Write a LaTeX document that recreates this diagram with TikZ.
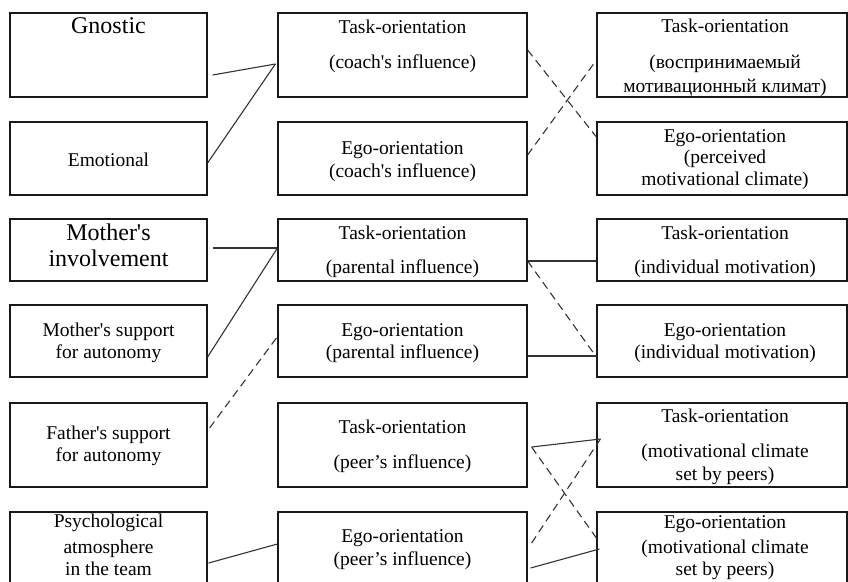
\documentclass[tikz,border=0pt]{standalone}
\usepackage{fontspec}
\newfontfamily\tnr{Liberation Serif}
\begin{document}
\begin{tikzpicture}[x=1pt,y=-1pt,
 box/.style={draw=black!90,line width=1.2pt,inner sep=0pt,minimum height=#1},
 lbox/.style={box=#1,minimum width=197},
 mbox/.style={box=#1,minimum width=249},
 rbox/.style={box=#1,minimum width=250},
 txt/.style={font=\tnr\fontsize{19.5}{22}\selectfont,inner sep=0pt,anchor=base,text=black},
 big/.style={txt,font=\tnr\fontsize{24}{27}\selectfont},
 conn/.style={draw=black!80,line width=1.1pt},
 dconn/.style={conn,dash pattern=on 8pt off 5pt}]
\useasboundingbox (0,0) rectangle (848,581);
\clip (0,0) rectangle (848,581);
% boxes
\node[lbox=84] (L1) at (108.5,55) {};
\node[lbox=73] (L2) at (108.5,158.5) {};
\node[lbox=62] (L3) at (108.5,250) {};
\node[lbox=72] (L4) at (108.5,341) {};
\node[lbox=84] (L5) at (108.5,445) {};
\node[lbox=90] (L6) at (108.5,557) {};
\node[mbox=84] (M1) at (402.5,55) {};
\node[mbox=73] (M2) at (402.5,158.5) {};
\node[mbox=62] (M3) at (402.5,250) {};
\node[mbox=72] (M4) at (402.5,341) {};
\node[mbox=84] (M5) at (402.5,445) {};
\node[mbox=90] (M6) at (402.5,557) {};
\node[rbox=84] (R1) at (722,55) {};
\node[rbox=73] (R2) at (722,158.5) {};
\node[rbox=62] (R3) at (722,250) {};
\node[rbox=72] (R4) at (722,341) {};
\node[rbox=84] (R5) at (722,445) {};
\node[rbox=90] (R6) at (722,557) {};
% left texts
\node[big] (tL1) at (108.5,33) {Gnostic};
\node[txt] (tL2) at (108.5,166) {Emotional};
\node[big] (tL3a) at (108.5,240.5) {Mother's};
\node[big] (tL3b) at (108.5,266.5) {involvement};
\node[txt] (tL4a) at (108.5,336.5) {Mother's support};
\node[txt] (tL4b) at (108.5,358.5) {for autonomy};
\node[txt] (tL5a) at (108.5,439.5) {Father's support};
\node[txt] (tL5b) at (108.5,461.5) {for autonomy};
\node[txt] (tL6a) at (108.5,527.5) {Psychological};
\node[txt] (tL6b) at (108.5,553) {atmosphere};
\node[txt] (tL6c) at (108.5,575) {in the team};
% middle texts
\node[txt] (tM1a) at (402.5,33) {Task-orientation};
\node[txt] (tM1b) at (402.5,68) {(coach's influence)};
\node[txt] (tM2a) at (402.5,154) {Ego-orientation};
\node[txt] (tM2b) at (402.5,177) {(coach's influence)};
\node[txt] (tM3a) at (402.5,239) {Task-orientation};
\node[txt] (tM3b) at (402.5,273.5) {(parental influence)};
\node[txt] (tM4a) at (402.5,336) {Ego-orientation};
\node[txt] (tM4b) at (402.5,358) {(parental influence)};
\node[txt] (tM5a) at (402.5,433) {Task-orientation};
\node[txt] (tM5b) at (402.5,468) {(peer’s influence)};
\node[txt] (tM6a) at (402.5,542.5) {Ego-orientation};
\node[txt] (tM6b) at (402.5,565) {(peer’s influence)};
% right texts
\node[txt] (tR1a) at (725,32) {Task-orientation};
\node[txt] (tR1b) at (725,68) {(воспринимаемый};
\node[txt] (tR1c) at (725,92) {мотивационный климат)};
\node[txt] (tR2a) at (725,142) {Ego-orientation};
\node[txt] (tR2b) at (725,163.5) {(perceived};
\node[txt] (tR2c) at (725,185.5) {motivational climate)};
\node[txt] (tR3a) at (725,239) {Task-orientation};
\node[txt] (tR3b) at (725,273.5) {(individual motivation)};
\node[txt] (tR4a) at (725,336) {Ego-orientation};
\node[txt] (tR4b) at (725,358) {(individual motivation)};
\node[txt] (tR5a) at (725,422) {Task-orientation};
\node[txt] (tR5b) at (725,457) {(motivational climate};
\node[txt] (tR5c) at (725,480) {set by peers)};
\node[txt] (tR6a) at (725,528) {Ego-orientation};
\node[txt] (tR6b) at (725,553) {(motivational climate};
\node[txt] (tR6c) at (725,575) {set by peers)};
% connectors
\draw[conn] ([xshift=5pt,yshift=-20pt]L1.east) -- ([xshift=-2pt,yshift=-9pt]M1.west);
\draw[conn] ([yshift=-4.5pt]L2.east) -- ([xshift=-2pt,yshift=-9pt]M1.west);
\draw[dconn] ([yshift=5pt]M1.east) -- ([yshift=21.5pt]R2.west);
\draw[dconn] ([yshift=3.5pt]M2.east) -- ([yshift=-5pt]R1.west);
\draw[conn] ([xshift=5pt,yshift=2pt]L3.east) -- ([yshift=2pt]M3.west);
\draw[conn] ([yshift=-16pt]L4.east) -- ([yshift=2pt]M3.west);
\draw[dconn] ([xshift=2pt,yshift=17pt]L5.east) -- ([xshift=2pt,yshift=7pt]M4.west);
\draw[conn] ([yshift=-11pt]M3.east) -- ([yshift=-11pt]R3.west);
\draw[dconn] ([yshift=-11pt]M3.east) -- ([yshift=-16pt]R4.west);
\draw[conn] ([yshift=-15pt]M4.east) -- ([yshift=-15pt]R4.west);
\draw[conn] ([xshift=4pt,yshift=-2pt]M5.east) -- ([xshift=4pt,yshift=6pt]R5.west);
\draw[dconn] ([xshift=4pt,yshift=-2pt]M5.east) -- ([yshift=19pt]R6.west);
\draw[dconn] ([xshift=4pt,yshift=14pt]M6.east) -- ([xshift=4pt,yshift=6pt]R5.west);
\draw[conn] ([xshift=3pt,yshift=-11pt]M6.east) -- ([xshift=3pt,yshift=8pt]R6.west);
\draw[conn] ([xshift=1pt,yshift=-6pt]L6.east) -- ([yshift=13pt]M6.west);
\end{tikzpicture}
\end{document}
